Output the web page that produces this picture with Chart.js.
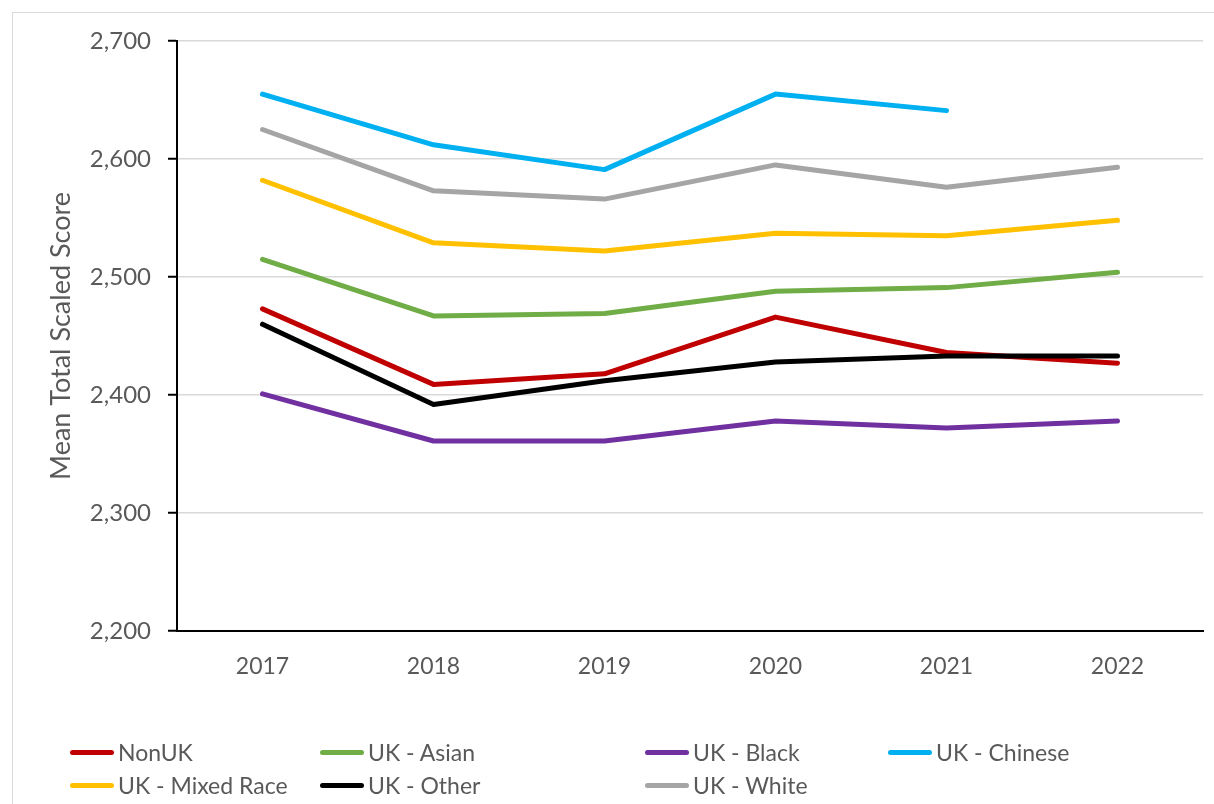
<!DOCTYPE html>
<html>
<head>
<meta charset="utf-8">
<script src="https://cdn.jsdelivr.net/npm/chart.js@4.4.1/dist/chart.umd.min.js"></script>
<style>
  html, body { margin: 0; padding: 0; background: #fff; }
  #wrap { position: relative; width: 1214px; height: 804px; overflow: hidden; }
  #frame { position: absolute; left: 12px; top: 12px; width: 1300px; height: 900px;
           border-left: 1.5px solid #d9d9d9; border-top: 1.5px solid #d9d9d9; }
  canvas { position: absolute; left: 0; top: 0; }
  .leg { position: absolute; display: flex; align-items: center; font-family: Lato, "Open Sans", sans-serif;
         font-size: 23px; color: #595959; white-space: nowrap; }
  .leg .sw { width: 44px; height: 5px; border-radius: 3px; margin-right: 4px; }
</style>
</head>
<body>
<div id="wrap">
  <div id="frame"></div>
  <canvas id="c" width="1214" height="804"></canvas>
  <div id="legend"></div>
</div>
<script>
const years = ['2017', '2018', '2019', '2020', '2021', '2022'];
const yTicks = [2200, 2300, 2400, 2500, 2600, 2700];
const seriesNames = ['NonUK', 'UK - Asian', 'UK - Black', 'UK - Chinese', 'UK - Mixed Race', 'UK - Other', 'UK - White'];
const nonUK     = [2473, 2409, 2418, 2466, 2436, 2427];
const ukAsian   = [2515, 2467, 2469, 2488, 2491, 2504];
const ukBlack   = [2401, 2361, 2361, 2378, 2372, 2378];
const ukChinese = [2655, 2612, 2591, 2655, 2641, null];
const ukMixed   = [2582, 2529, 2522, 2537, 2535, 2548];
const ukOther   = [2460, 2392, 2412, 2428, 2433, 2433];
const ukWhite   = [2625, 2573, 2566, 2595, 2576, 2593];
const seriesValues = [nonUK, ukAsian, ukBlack, ukChinese, ukMixed, ukOther, ukWhite];
const seriesColors = ['#C00000', '#70AD47', '#7030A0', '#00B0F0', '#FFC000', '#000000', '#A5A5A5'];

const FONT = 'Lato, "Open Sans", sans-serif';
const datasets = seriesNames.map((n, i) => ({
  label: n,
  data: seriesValues[i],
  borderColor: seriesColors[i],
  backgroundColor: seriesColors[i],
  borderWidth: 5,
  borderCapStyle: 'round',
  borderJoinStyle: 'round',
  pointRadius: 0,
  pointHoverRadius: 0,
  tension: 0,
  spanGaps: false,
  order: seriesNames.length - i
}));

new Chart(document.getElementById('c'), {
  type: 'line',
  data: { labels: years, datasets },
  options: {
    responsive: false,
    animation: false,
    events: [],
    layout: { padding: { left: 40, top: 41, right: 11, bottom: 113 } },
    plugins: { legend: { display: false }, tooltip: { enabled: false } },
    scales: {
      x: {
        offset: true,
        grid: { display: false, drawTicks: false },
        border: { display: true, color: '#000', width: 2 },
        ticks: { color: '#595959', font: { family: FONT, size: 23 }, padding: 22, maxRotation: 0 },
        afterFit: s => { s.height = 60; }
      },
      y: {
        min: 2200, max: 2700,
        afterBuildTicks: s => { s.ticks = yTicks.map(v => ({ value: v })); },
        grid: { color: '#d9d9d9', lineWidth: 1.5, tickColor: '#000', tickLength: 9, tickWidth: 2 },
        border: { display: true, color: '#000', width: 2 },
        ticks: { color: '#595959', font: { family: FONT, size: 24 }, padding: 17,
                 callback: v => Number(v).toLocaleString('en-US') },
        title: { display: true, text: 'Mean Total Scaled Score', color: '#595959',
                 font: { family: FONT, size: 27 }, padding: { top: 5, bottom: 0 } },
        afterFit: s => { s.width = 137; }
      }
    }
  }
});

// HTML legend in Excel-like fixed columns
const legPos = [[70, 752], [320, 752], [645, 752], [888, 752], [70, 785], [320, 785], [645, 785]];
const leg = document.getElementById('legend');
seriesNames.forEach((n, i) => {
  const d = document.createElement('div');
  d.className = 'leg';
  d.style.left = legPos[i][0] + 'px';
  d.style.top = (legPos[i][1] - 15) + 'px';
  d.style.height = '30px';
  const sw = document.createElement('span');
  sw.className = 'sw';
  sw.style.background = seriesColors[i];
  const t = document.createElement('span');
  t.textContent = n;
  d.appendChild(sw); d.appendChild(t);
  leg.appendChild(d);
});
</script>
</body>
</html>
